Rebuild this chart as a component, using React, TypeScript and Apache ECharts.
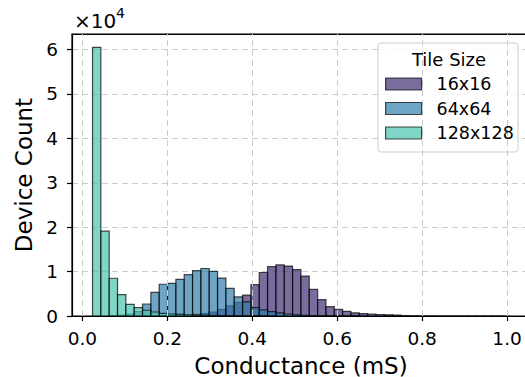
import React, { useEffect, useRef } from "react";
import * as echarts from "echarts";

// Histogram bins (shared by all series)
const BIN_START = 0.0238;
const BIN_WIDTH = 0.01963;
const BIN_COUNT = 50;

const seriesNames = ["16x16", "64x64", "128x128"];

const counts16 = [
  0, 0, 0, 0, 0, 0, 0, 0, 0, 50,
  100, 200, 350, 550, 900, 1500, 2300, 3100, 4700, 7050,
  9800, 11100, 11500, 11250, 10450, 9000, 5980, 3690, 2100, 1470,
  1060, 720, 530, 420, 340, 270, 210, 90, 50, 30,
  20, 12, 8, 5, 4, 3, 2, 1, 1, 1,
];
const counts64 = [
  0, 0, 50, 200, 450, 1000, 2700, 5300, 7150, 7350,
  8250, 9300, 10200, 10700, 10050, 8550, 6200, 4300, 3200, 1900,
  1400, 1000, 700, 450, 280, 150, 80, 40, 20, 10,
  5, 2, 0, 0, 0, 0, 0, 0, 0, 0,
  0, 0, 0, 0, 0, 0, 0, 0, 0, 0,
];
const counts128 = [
  60500, 19100, 8500, 4800, 2600, 1900, 1300, 900, 600, 450,
  350, 280, 220, 170, 130, 100, 70, 50, 30, 20,
  10, 5, 0, 0, 0, 0, 0, 0, 0, 0,
  0, 0, 0, 0, 0, 0, 0, 0, 0, 0,
  0, 0, 0, 0, 0, 0, 0, 0, 0, 0,
];

const xTicks = [0, 0.2, 0.4, 0.6, 0.8, 1.0];

const colors = [
  "rgba(65,45,116,0.7)",
  "rgba(49,126,171,0.7)",
  "rgba(72,196,174,0.7)",
];
const EDGE = "rgba(0,0,0,0.7)";
const FONT = "DejaVu Sans";

function binData(counts: number[]) {
  const out: number[][] = [];
  for (let i = 0; i < BIN_COUNT; i++) {
    const x0 = BIN_START + i * BIN_WIDTH;
    out.push([x0, x0 + BIN_WIDTH, counts[i]]);
  }
  return out;
}

function histSeries(name: string, counts: number[], color: string) {
  return {
    type: "custom",
    name,
    coordinateSystem: "cartesian2d",
    data: binData(counts),
    encode: { x: [0, 1], y: 2 },
    itemStyle: { color, borderColor: EDGE, borderWidth: 1.2 },
    z: 2,
    renderItem: (params: any, api: any) => {
      const v = api.value(2);
      if (!(v > 0)) return null;
      const p0 = api.coord([api.value(0), v]);
      const p1 = api.coord([api.value(1), 0]);
      return {
        type: "rect",
        shape: { x: p0[0], y: p0[1], width: p1[0] - p0[0], height: p1[1] - p0[1] },
        style: { fill: color, stroke: EDGE, lineWidth: 1.2 },
      };
    },
  };
}

export default function App() {
  const ref = useRef<HTMLDivElement>(null);
  useEffect(() => {
    document.body.style.margin = "0";
    const chart = echarts.init(ref.current!, null, { renderer: "svg" });
    const option: any = {
      animation: false,
      textStyle: { fontFamily: FONT },
      grid: {
        left: 72,
        right: -5,
        top: 34,
        bottom: 61,
        show: true,
        borderColor: "#000",
        borderWidth: 1.2,
        backgroundColor: "transparent",
        containLabel: false,
        outerBoundsMode: "none",
      },
      xAxis: [
        {
          type: "value",
          min: -0.0245,
          max: 1.054,
          name: "Conductance (mS)",
          nameLocation: "middle",
          nameGap: 38,
          nameTextStyle: { fontSize: 23, color: "#000", fontFamily: FONT },
          axisLine: { show: true, onZero: false, lineStyle: { color: "#000", width: 1.2 } },
          axisTick: {
            show: true,
            length: 5,
            customValues: xTicks,
            lineStyle: { color: "#000", width: 1.2 },
          },
          axisLabel: {
            customValues: xTicks,
            formatter: (v: number) => v.toFixed(1),
            fontSize: 18.5,
            color: "#000",
            margin: 13,
            fontFamily: FONT,
          },
          splitLine: { show: false },
        },
        {
          type: "value",
          position: "top",
          min: -0.0245,
          max: 1.054,
          z: 3,
          axisLine: { show: true, onZero: false, lineStyle: { color: "#000", width: 1.2 } },
          axisTick: { show: false },
          axisLabel: { show: false },
          splitLine: { show: false },
        },
      ],
      yAxis: {
        type: "value",
        min: 0,
        max: 63500,
        interval: 10000,
        name: "Device Count",
        nameLocation: "middle",
        nameGap: 35,
        nameTextStyle: { fontSize: 23, color: "#000", fontFamily: FONT },
        axisLine: { show: true, onZero: false, lineStyle: { color: "#000", width: 1.2 } },
        axisTick: { show: true, length: 5, lineStyle: { color: "#000", width: 1.2 } },
        axisLabel: {
          formatter: (v: number) => (v % 10000 === 0 ? String(v / 10000) : ""),
          showMaxLabel: false,
          fontSize: 18.5,
          color: "#000",
          margin: 14,
          fontFamily: FONT,
        },
        splitLine: {
          show: true,
          showMaxLine: false,
          lineStyle: { color: "#cccccc", width: 1, type: [6, 4] },
        },
      },
      legend: {
        orient: "vertical",
        left: 385,
        top: 75,
        itemWidth: 36,
        itemHeight: 12,
        itemGap: 6.5,
        padding: 0,
        icon: "rect",
        selectedMode: false,
        z: 6,
        textStyle: { fontSize: 17.5, color: "#000", fontFamily: FONT, padding: [0, 0, 0, 10] },
        data: seriesNames.map((n, i) => ({
          name: n,
          itemStyle: { color: colors[i], borderColor: EDGE, borderWidth: 1.2 },
        })),
      },
      graphic: [
        {
          type: "rect",
          z: 5,
          shape: { x: 378, y: 43, width: 140, height: 109, r: 3 },
          style: { fill: "rgba(255,255,255,0.8)", stroke: "#cccccc", lineWidth: 1 },
        },
        {
          type: "text",
          z: 6,
          x: 449,
          y: 59.5,
          style: {
            text: "Tile Size",
            font: `18px '${FONT}'`,
            fill: "#000",
            textAlign: "center",
            textVerticalAlign: "middle",
          },
        },
        {
          type: "text",
          z: 6,
          x: 74,
          y: 21,
          style: {
            text: "×10",
            font: `20px '${FONT}'`,
            fill: "#000",
            textAlign: "left",
            textVerticalAlign: "middle",
          },
        },
        {
          type: "text",
          z: 6,
          x: 116,
          y: 13,
          style: {
            text: "4",
            font: `14px '${FONT}'`,
            fill: "#000",
            textAlign: "left",
            textVerticalAlign: "middle",
          },
        },
      ],
      series: [
        {
          type: "line",
          data: [],
          z: 1,
          silent: true,
          markLine: {
            silent: true,
            symbol: ["none", "none"],
            label: { show: false },
            lineStyle: { color: "#cccccc", width: 1, type: [6, 4] },
            data: xTicks.map((v) => ({ xAxis: v })),
          },
        },
        histSeries(seriesNames[0], counts16, colors[0]),
        histSeries(seriesNames[1], counts64, colors[1]),
        histSeries(seriesNames[2], counts128, colors[2]),
      ],
    };
    chart.setOption(option);
    return () => chart.dispose();
  }, []);
  return (
    <div
      ref={ref}
      style={{ position: "absolute", left: 0, top: 0, width: 525, height: 377 }}
    />
  );
}
